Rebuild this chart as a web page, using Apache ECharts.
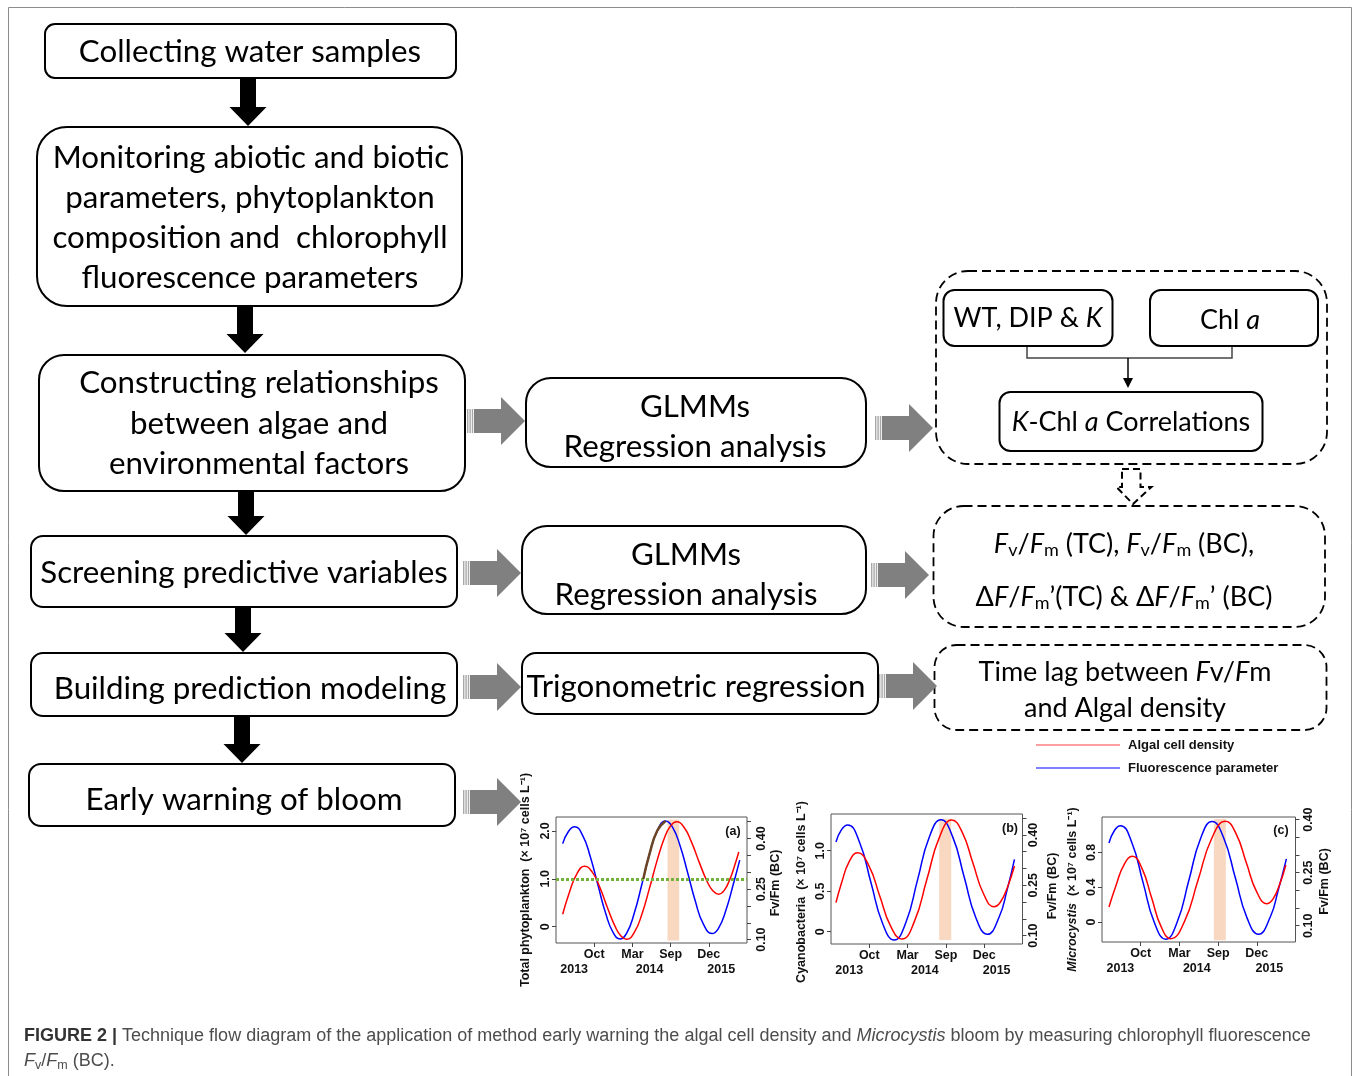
<!DOCTYPE html>
<html>
<head>
<meta charset="utf-8">
<script src="https://cdn.jsdelivr.net/npm/echarts@6/dist/echarts.min.js"></script>
<style>
  html, body { margin: 0; padding: 0; background: #fff; }
  #c { width: 1357px; height: 1076px; }
</style>
</head>
<body>
<div id="c"></div>
<script>
// ---- time axis (shared by the three panels) ----
const monthTicks = [20, 40, 60, 80];
const monthLabels = ['Oct', 'Mar', 'Sep', 'Dec'];
const yearTicks = [9.5, 49, 86.5];
const yearLabels = ['2013', '2014', '2015'];

// ---- Fv/Fm (BC) axis ----
const fvTicks = [0.10, 0.15, 0.20, 0.25, 0.30, 0.35, 0.40, 0.45];
const fvLabelTicks = [0.10, 0.25, 0.40];
const fvLabels = ['0.10', '0.25', '0.40'];

// ---- panel (a): total phytoplankton ----
const aLeftTicks = [0, 1, 2];
const aLeftLabels = ['0', '1.0', '2.0'];
const aRedX = [3.5, 7, 11, 15, 19, 23, 27, 31, 34, 37, 41, 45, 49, 53, 57, 60, 63.1, 67, 71, 75, 79, 82, 85.2, 88, 91, 93.5, 95.7];
const aRedY = [0.26, 0.715, 1.11, 1.26, 1.14, 0.816, 0.392, 0.002, -0.192, -0.26, -0.12, 0.266, 0.81, 1.39, 1.876, 2.104, 2.19, 2.077, 1.761, 1.343, 0.955, 0.757, 0.68, 0.754, 0.988, 1.273, 1.56];
const aBlueX = [3.5, 6.5, 9.7, 14, 18, 22, 26, 30, 33.6, 37, 41, 45, 49, 53, 57.4, 61, 65, 69, 73, 77, 81.7, 85, 89, 93, 96.2];
const aBlueY = [0.385, 0.421, 0.435, 0.409, 0.345, 0.261, 0.178, 0.120, 0.102, 0.119, 0.179, 0.265, 0.355, 0.423, 0.452, 0.434, 0.378, 0.297, 0.213, 0.148, 0.118, 0.133, 0.188, 0.268, 0.336];
const aRiseX = [45.7, 49, 53, 57.4];
const aRiseY = [0.28, 0.355, 0.423, 0.452];
const aBandX = [58.4, 64.5];
const aBandY = [-0.29, 2.237];
const aThreshold = 1.0;

// ---- panel (b): cyanobacteria ----
const bLeftTicks = [0, 0.5, 1];
const bLeftLabels = ['0', '0.5', '1.0'];
const bRedX = [2.6, 5.5, 9.5, 13.9, 19.7, 25.45, 31.2, 37.0, 43.5, 50.05, 56.6, 63.1, 68.6, 74.15, 79.7, 85.2, 88.5, 92.2, 95.8];
const bRedY = [0.358, 0.601, 0.864, 0.975, 0.819, 0.442, 0.065, -0.091, 0.124, 0.644, 1.164, 1.379, 1.223, 0.844, 0.465, 0.309, 0.366, 0.553, 0.811];
const bBlueX = [2.6, 5.5, 8.7, 14.8, 20.85, 26.9, 33.0, 39.1, 45.2, 51.3, 57.4, 63.5, 69.55, 75.6, 81.7, 87.7, 92, 95.8];
const bBlueY = [0.379, 0.416, 0.430, 0.380, 0.2585, 0.137, 0.087, 0.139, 0.266, 0.393, 0.445, 0.395, 0.2745, 0.154, 0.104, 0.154, 0.237, 0.327];
const bBandX = [56.5, 62.8];
const bBandY = [-0.103, 1.395];

// ---- panel (c): Microcystis ----
const cLeftTicks = [0, 0.4, 0.8];
const cLeftLabels = ['0', '0.4', '0.8'];
const cRedX = [3.6, 7.5, 11.5, 15.7, 20.65, 25.6, 30.55, 35.5, 42.6, 49.65, 56.7, 63.8, 69.2, 74.55, 79.9, 85.3, 88.5, 92, 95.0];
const cRedY = [0.172, 0.438, 0.663, 0.755, 0.617, 0.2815, -0.054, -0.192, 0.005, 0.4825, 0.960, 1.157, 1.019, 0.684, 0.349, 0.211, 0.268, 0.444, 0.655];
const cBlueX = [3.6, 6.5, 9.5, 15.35, 21.2, 27.05, 32.9, 38.9, 44.9, 50.9, 56.9, 62.9, 68.9, 74.9, 80.9, 86.9, 91, 95.3];
const cBlueY = [0.334, 0.370, 0.383, 0.336, 0.2225, 0.109, 0.062, 0.111, 0.2285, 0.346, 0.395, 0.348, 0.2355, 0.123, 0.076, 0.124, 0.199, 0.289];
const cBandX = [57.8, 64.0];
const cBandY = [-0.211, 1.184];

// ---------------------------------------------------------------
const AX_FONT = '"Liberation Sans", Arial, Helvetica, sans-serif';
const BOX_FONT = 'Lato, "Open Sans", "Noto Sans", sans-serif';
const RED = '#ff0000';
const BLUE = '#0000ff';
const MAIN_SIZE = 31.3;
const SIDE_SIZE = 27;

function pairs(xs, ys) { return xs.map((x, i) => [x, ys[i]]); }
function lookup(ticks, labels) {
  return function (v) {
    let k = 0, d = Infinity;
    ticks.forEach((t, i) => { const e = Math.abs(t - v); if (e < d) { d = e; k = i; } });
    return labels[k];
  };
}

const AX_LABEL = { fontFamily: AX_FONT, fontWeight: 'bold', fontSize: 12.5, color: '#111' };

const panels = [
  {
    grid: { left: 556, top: 817, width: 191, height: 126 },
    yl: [-0.34, 2.29], yr: [0.090, 0.464],
    lt: aLeftTicks, ll: aLeftLabels,
    lname: 'Total phytoplankton  (× 10⁷ cells L⁻¹)', lpad: 0, lgap: 24,
    rpad: 6, rgap: 15, rmargin: 8, lmargin: 4,
    red: pairs(aRedX, aRedY), blue: pairs(aBlueX, aBlueY),
    band: [aBandX, aBandY], threshold: aThreshold, rise: pairs(aRiseX, aRiseY),
    tag: '(a)', tagPos: [733, 832]
  },
  {
    grid: { left: 831, top: 814, width: 191.5, height: 130 },
    yl: [-0.152, 1.453], yr: [0.075, 0.4625],
    lt: bLeftTicks, ll: bLeftLabels,
    lname: 'Cyanobacteria  (× 10⁷ cells L⁻¹)', lpad: 26, lgap: 23,
    rpad: 14, rgap: 24, rmargin: 4.5, lmargin: 3.5,
    red: pairs(bRedX, bRedY), blue: pairs(bBlueX, bBlueY),
    band: [bBandX, bBandY],
    tag: '(b)', tagPos: [1010, 829]
  },
  {
    grid: { left: 1102, top: 817, width: 193.5, height: 125 },
    yl: [-0.23, 1.207], yr: [0.054, 0.4075],
    lt: cLeftTicks, ll: cLeftLabels,
    lname: '{i|Microcystis}{n|  (× 10⁷ cells L⁻¹)}', lpad: 20, lgap: 23,
    rpad: 4, rgap: 22.5, rmargin: 7, lmargin: 3.5,
    red: pairs(cRedX, cRedY), blue: pairs(cBlueX, cBlueY),
    band: [cBandX, cBandY],
    tag: '(c)', tagPos: [1281, 831]
  }
];

const grids = [], xAxes = [], yAxes = [], series = [];
const NAME_STYLE = {
  fontFamily: AX_FONT, fontWeight: 'bold', fontSize: 12.5, color: '#111',
  rich: {
    n: { fontFamily: AX_FONT, fontWeight: 'bold', fontSize: 12.5, color: '#111' },
    i: { fontFamily: AX_FONT, fontWeight: 'bold', fontStyle: 'italic', fontSize: 12.5, color: '#111' }
  }
};

panels.forEach((p, i) => {
  grids.push(Object.assign({
    show: true, borderColor: '#555', borderWidth: 1, backgroundColor: 'transparent',
    containLabel: false, outerBoundsMode: 'none'
  }, p.grid));

  xAxes.push({
    gridIndex: i, type: 'value', min: 0, max: 100, position: 'bottom',
    axisLine: { show: false, onZero: false }, splitLine: { show: false },
    axisTick: { show: true, customValues: monthTicks, length: 4, lineStyle: { color: '#444' } },
    axisLabel: Object.assign({ customValues: monthTicks, formatter: lookup(monthTicks, monthLabels), margin: 5 }, AX_LABEL)
  });
  xAxes.push({
    gridIndex: i, type: 'value', min: 0, max: 100, position: 'bottom', offset: 15,
    axisLine: { show: false, onZero: false }, axisTick: { show: false }, splitLine: { show: false },
    axisLabel: Object.assign({ customValues: yearTicks, formatter: lookup(yearTicks, yearLabels), margin: 5 }, AX_LABEL)
  });

  const rt = fvTicks.filter(v => v >= p.yr[0] && v <= p.yr[1]);
  yAxes.push({
    gridIndex: i, type: 'value', position: 'left', min: p.yl[0], max: p.yl[1],
    axisLine: { show: false, onZero: false }, splitLine: { show: false },
    axisTick: { show: true, customValues: p.lt, length: 4, lineStyle: { color: '#444' } },
    axisLabel: Object.assign({ customValues: p.lt, formatter: lookup(p.lt, p.ll), rotate: 90, margin: p.lmargin }, AX_LABEL),
    name: p.lname, nameLocation: 'middle', nameRotate: 90, nameGap: p.lgap,
    nameTextStyle: Object.assign({ padding: [0, p.lpad, 0, 0] }, NAME_STYLE)
  });
  yAxes.push({
    gridIndex: i, type: 'value', position: 'right', min: p.yr[0], max: p.yr[1],
    axisLine: { show: false, onZero: false }, splitLine: { show: false },
    axisTick: { show: true, customValues: rt, length: 4, lineStyle: { color: '#444' } },
    axisLabel: Object.assign({ customValues: fvLabelTicks, formatter: lookup(fvLabelTicks, fvLabels), rotate: 90, margin: p.rmargin }, AX_LABEL),
    name: 'Fv/Fm (BC)', nameLocation: 'middle', nameRotate: 90, nameGap: p.rgap,
    nameTextStyle: Object.assign({ padding: [0, p.rpad, 0, 0] }, NAME_STYLE)
  });

  // shaded lag window and threshold, kept beneath the curves
  const host = {
    type: 'line', xAxisIndex: 2 * i, yAxisIndex: 2 * i, data: [[50, 0]],
    symbol: 'none', lineStyle: { opacity: 0 }, silent: true, z: 1,
    markArea: {
      silent: true, itemStyle: { color: '#f9d8c2' },
      data: [[{ xAxis: p.band[0][0], yAxis: p.band[1][0] }, { xAxis: p.band[0][1], yAxis: p.band[1][1] }]]
    }
  };
  if (p.threshold !== undefined) {
    host.markLine = {
      silent: true, symbol: ['none', 'none'], label: { show: false },
      lineStyle: { type: [3, 2], color: '#72b33c', width: 3 },
      data: [{ yAxis: p.threshold }]
    };
  }
  series.push(host);

  series.push({
    name: 'Fluorescence parameter', type: 'line', xAxisIndex: 2 * i, yAxisIndex: 2 * i + 1,
    data: p.blue, smooth: 0.5, showSymbol: false, symbol: 'none',
    lineStyle: { color: BLUE, width: 1.5 }, z: 3
  });
  series.push({
    name: 'Algal cell density', type: 'line', xAxisIndex: 2 * i, yAxisIndex: 2 * i,
    data: p.red, smooth: 0.5, showSymbol: false, symbol: 'none',
    lineStyle: { color: RED, width: 1.5 }, z: 4
  });
  if (p.rise) {
    series.push({
      type: 'line', xAxisIndex: 2 * i, yAxisIndex: 2 * i + 1,
      data: p.rise, smooth: 0.5, showSymbol: false, symbol: 'none',
      lineStyle: { color: '#6b4526', width: 2.5 }, z: 5
    });
  }
});

// ---------------- flow diagram ----------------
const g = [];
const RICH = {
  n: { fontFamily: BOX_FONT, fontSize: SIDE_SIZE, lineHeight: 31, verticalAlign: 'middle', fill: '#000' },
  i: { fontFamily: BOX_FONT, fontSize: SIDE_SIZE, fontStyle: 'italic', lineHeight: 31, verticalAlign: 'middle', fill: '#000' },
  s: { fontFamily: BOX_FONT, fontSize: 18, lineHeight: 18, verticalAlign: 'bottom', fill: '#000' }
};

function box(x, y, w, h, r, dashed) {
  g.push({
    type: 'rect', shape: { x, y, width: w, height: h, r },
    style: { fill: '#fff', stroke: '#000', lineWidth: dashed ? 1.8 : 2, lineDash: dashed ? [9, 5] : null },
    z: 10, silent: true
  });
}
function txt(s, x, y, size, extra) {
  g.push({
    type: 'text', x, y, z: 12, silent: true,
    style: Object.assign({ text: s, fontSize: size || MAIN_SIZE, fontFamily: BOX_FONT, fill: '#000', align: 'center', verticalAlign: 'middle' }, extra || {})
  });
}
function rtxt(s, x, y) { txt(s, x, y, SIDE_SIZE, { rich: RICH }); }
function downArrow(cx, top, tip) {
  g.push({
    type: 'polygon', z: 11, silent: true,
    shape: { points: [[cx - 8, top], [cx + 8, top], [cx + 8, tip - 19], [cx + 18.5, tip - 19], [cx, tip], [cx - 18.5, tip - 19], [cx - 8, tip - 19]] },
    style: { fill: '#000' }
  });
}
function grayArrow(x0, cy) {
  for (let k = 0; k < 3; k++) {
    g.push({ type: 'rect', z: 11, silent: true, shape: { x: x0 + k * 2.4, y: cy - 12, width: 1.4, height: 24 }, style: { fill: '#a8a8a8' } });
  }
  g.push({
    type: 'polygon', z: 11, silent: true,
    shape: { points: [[x0 + 7, cy - 12], [x0 + 34, cy - 12], [x0 + 34, cy - 24], [x0 + 58, cy], [x0 + 34, cy + 24], [x0 + 34, cy + 12], [x0 + 7, cy + 12]] },
    style: { fill: '#808080' }
  });
}

// outer frame
g.push({ type: 'rect', shape: { x: 8.5, y: 7.5, width: 1343, height: 1100 }, style: { fill: 'none', stroke: '#8c8c8c', lineWidth: 1 }, z: 0, silent: true });

// left column
box(45, 24, 411, 54, 10);
txt('Collecting water samples', 250, 52);
box(37, 127, 425, 179, 30);
txt('Monitoring abiotic and biotic', 251, 158);
txt('parameters, phytoplankton', 250, 198);
txt('composition and  chlorophyll', 250, 238);
txt('fluorescence parameters', 250, 278);
box(39, 355, 426, 136, 25);
txt('Constructing relationships', 259, 383);
txt('between algae and', 259, 424);
txt('environmental factors', 259, 464);
box(31, 536, 426, 71, 12);
txt('Screening predictive variables', 244, 573);
box(31, 653, 426, 63, 12);
txt('Building prediction modeling', 250, 689);
box(29, 764, 426, 62, 12);
txt('Early warning of bloom', 244, 800);

downArrow(248, 79, 126);
downArrow(245, 307, 353);
downArrow(246, 492, 535);
downArrow(243, 608, 652);
downArrow(242, 717, 763);

// middle column
box(526, 378, 340, 89, 25);
txt('GLMMs', 695, 407);
txt('Regression analysis', 695, 447);
box(522, 526, 344, 88, 25);
txt('GLMMs', 686, 555);
txt('Regression analysis', 686, 595);
box(522, 653, 356, 61, 14);
txt('Trigonometric regression', 696, 687);

grayArrow(467, 421);
grayArrow(875, 428);
grayArrow(463, 573);
grayArrow(871, 575);
grayArrow(463, 687);
grayArrow(879, 686);
grayArrow(463, 802);

// right column
box(936, 271, 391, 193, 32, true);
box(943.5, 290, 169, 56, 11);
rtxt('{n|WT, DIP & }{i|K}', 1028, 318);
box(1150, 290, 168, 56, 11);
rtxt('{n|Chl }{i|a}', 1230, 320);
g.push({ type: 'polyline', z: 11, silent: true, shape: { points: [[1027, 347], [1027, 358], [1232, 358], [1232, 347]] }, style: { stroke: '#444', lineWidth: 1.5, fill: 'none' } });
g.push({ type: 'line', z: 11, silent: true, shape: { x1: 1128, y1: 358, x2: 1128, y2: 380 }, style: { stroke: '#000', lineWidth: 1.5 } });
g.push({ type: 'polygon', z: 11, silent: true, shape: { points: [[1123, 378], [1133, 378], [1128, 388]] }, style: { fill: '#000' } });
box(999.5, 392, 263, 59, 11);
rtxt('{i|K}{n|-Chl }{i|a}{n| Correlations}', 1131, 422);

g.push({
  type: 'polygon', z: 11, silent: true,
  shape: { points: [[1122, 469], [1140.5, 469], [1140.5, 487], [1151.5, 487], [1133, 504], [1116.5, 487], [1122, 487]] },
  style: { fill: 'none', stroke: '#000', lineWidth: 2, lineDash: [7, 4] }
});

box(933.5, 506, 391.5, 121, 30, true);
rtxt('{i|F}{s|v}{n|/}{i|F}{s|m}{n| (TC), }{i|F}{s|v}{n|/}{i|F}{s|m}{n| (BC),}', 1124, 544);
rtxt('{n|Δ}{i|F}{n|/}{i|F}{s|m}{n|’(TC) & Δ}{i|F}{n|/}{i|F}{s|m}{n|’ (BC)}', 1124, 597);

box(934.5, 645, 392, 85, 22, true);
rtxt('{n|Time lag between }{i|F}{n|v/}{i|F}{n|m}', 1125, 672);
txt('and Algal density', 1125, 708, SIDE_SIZE);

// legend
g.push({ type: 'line', z: 11, silent: true, shape: { x1: 1036, y1: 745, x2: 1120, y2: 745 }, style: { stroke: '#ff4040', lineWidth: 1.2 } });
g.push({ type: 'line', z: 11, silent: true, shape: { x1: 1036, y1: 768, x2: 1120, y2: 768 }, style: { stroke: BLUE, lineWidth: 1.2 } });
txt('Algal cell density', 1128, 745, 13, { fontFamily: AX_FONT, fontWeight: 'bold', align: 'left', fill: '#111' });
txt('Fluorescence parameter', 1128, 768, 13, { fontFamily: AX_FONT, fontWeight: 'bold', align: 'left', fill: '#111' });

// panel tags
panels.forEach(p => {
  txt(p.tag, p.tagPos[0], p.tagPos[1], 12.5, { fontFamily: AX_FONT, fontWeight: 'bold', fill: '#111' });
});

// caption
const CAP = {
  b: { fontFamily: AX_FONT, fontSize: 18, fontWeight: 'bold', fill: '#333', lineHeight: 23, verticalAlign: 'middle' },
  n: { fontFamily: AX_FONT, fontSize: 18, fill: '#4d4d4d', lineHeight: 23, verticalAlign: 'middle' },
  i: { fontFamily: AX_FONT, fontSize: 18, fontStyle: 'italic', fill: '#4d4d4d', lineHeight: 23, verticalAlign: 'middle' },
  s: { fontFamily: AX_FONT, fontSize: 12.5, fill: '#4d4d4d', lineHeight: 12.5, verticalAlign: 'bottom' }
};
g.push({
  type: 'text', x: 24, y: 1036, z: 12, silent: true,
  style: {
    text: '{b|FIGURE 2 |}{n| Technique flow diagram of the application of method early warning the algal cell density and }{i|Microcystis}{n| bloom by measuring chlorophyll fluorescence}',
    rich: CAP, align: 'left', verticalAlign: 'middle'
  }
});
g.push({
  type: 'text', x: 24, y: 1061, z: 12, silent: true,
  style: { text: '{i|F}{s|v}{n|/}{i|F}{s|m}{n| (BC).}', rich: CAP, align: 'left', verticalAlign: 'middle' }
});

const chart = echarts.init(document.getElementById('c'), null, { renderer: 'canvas' });
chart.setOption({
  backgroundColor: '#fff',
  animation: false,
  grid: grids,
  xAxis: xAxes,
  yAxis: yAxes,
  series: series,
  graphic: { elements: g }
});
</script>
</body>
</html>
